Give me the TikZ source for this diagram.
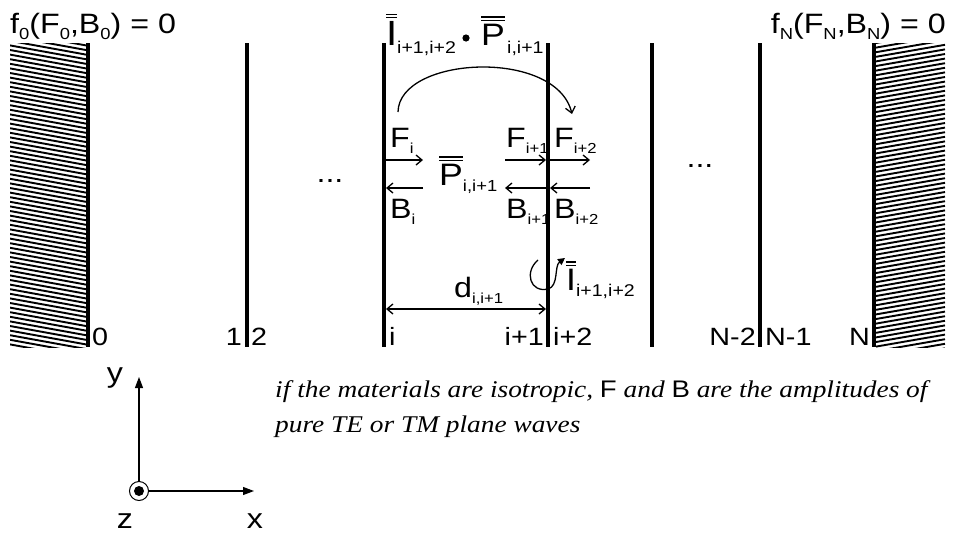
\documentclass[tikz,border=0pt]{standalone}
\usepackage{fontspec}
\setmainfont[FakeStretch=1.15]{Liberation Sans}
\newfontfamily\stsans[FakeStretch=1.15]{Liberation Sans}
\newfontfamily\serifit[FakeStretch=1.14]{Liberation Serif}
\usetikzlibrary{arrows.meta}
\newcommand\fs[1]{\fontsize{#1}{#1}\selectfont}
\newcommand\sbs[1]{\raisebox{-6pt}{\fs{16}#1}}
\newcommand\sbm[1]{\raisebox{-6pt}{\fs{14.5}#1}}
\newsavebox\dblbox
\newcommand\dbl[1]{\sbox\dblbox{#1}\rlap{\raisebox{\dimexpr\ht\dblbox+2.5pt}{\rule{\wd\dblbox}{1.4pt}}}\rlap{\raisebox{\dimexpr\ht\dblbox+5.8pt}{\rule{\wd\dblbox}{1.4pt}}}\usebox\dblbox}
\tikzset{
  lbl/.style={inner sep=0pt, font=\fs{28}},
  idx/.style={inner sep=0pt, font=\fs{25}},
  wall/.style={line width=3.5pt},
  hatchline/.style={line width=1.9pt},
  flow/.style={line width=1.3pt, -{Straight Barb[length=6pt,width=10pt]}},
  axis/.style={line width=1.1pt, -{Triangle[length=11pt,width=8pt]}},
}
\begin{document}
\begin{tikzpicture}[x=1pt,y=-1pt]
\useasboundingbox (0,0) rectangle (959,536);
% hatched walls
\begin{scope}
  \clip (10,43) rectangle (87,347);
  \foreach \k in {0,...,72} {\draw[hatchline] (10,{27+\k*4.6}) -- ++(77,14);}
\end{scope}
\begin{scope}
  \clip (876,43) rectangle (945,347);
  \foreach \k in {0,...,72} {\draw[hatchline] (876,{43+\k*4.6}) -- ++(69,-12);}
\end{scope}
% interfaces
\foreach \n/\x in {w0/88,w1/247,wi/384,wj/548,wa/652,wb/760,wN/874}{
  \coordinate (\n t) at (\x,43);
  \coordinate (\n b) at (\x,347);
  \draw[wall] (\n t) -- (\n b);
}
% top conditions
\node[lbl, anchor=base west] (c0) at (10,33) {f\sbs{0}(F\sbs{0},B\sbs{0}) = 0};
\node[lbl, anchor=base east] (cN) at (946,33) {f\sbs{N}(F\sbs{N},B\sbs{N}) = 0};
% bottom indices
\node[idx, anchor=base west] (l0) at (92,345) {0};
\node[idx, anchor=base east] (l1) at (242,345) {1};
\node[idx, anchor=base west] (l2) at (251,345) {2};
\node[idx, anchor=base west] (li) at (389,345) {i};
\node[idx, anchor=base east] (lj) at (544,345) {i+1};
\node[idx, anchor=base west] (lk) at (553,345) {i+2};
\node[idx, anchor=base east] (la) at (756,345) {N-2};
\node[idx, anchor=base west] (lb) at (765,345) {N-1};
\node[idx, anchor=base east] (lN) at (870,345) {N};
% dots
\node[lbl, anchor=base] (dl) at (330,182) {...};
\node[lbl, anchor=base] (dr) at (700,167) {...};
% top product
\node[inner sep=0pt, anchor=base west, font=\fs{35}] (Itop) at (386,45) {\dbl{I}};
\node[inner sep=0pt, anchor=base west, font=\fs{17}] (Itops) at (397,53) {i+1,i+2};
\fill (466,38) circle (3.6pt);
\node[inner sep=0pt, anchor=base west, font=\fs{31}] (Ptop) at (481,45) {\dbl{P}};
\node[inner sep=0pt, anchor=base west, font=\fs{17}] (Ptops) at (507,53) {i,i+1};
% curved arrow
\coordinate (ca1) at (398,112);
\coordinate (ca2) at (572,114);
\draw[flow] (ca1) .. controls (399,56) and (556,48) .. (ca2);
% forward / backward arrows
\coordinate (Fi1) at (386,160); \coordinate (Fi2) at (423,160);
\coordinate (Bi1) at (423,188); \coordinate (Bi2) at (386,188);
\coordinate (Fj1) at (505,160); \coordinate (Fj2) at (546,160);
\coordinate (Bj1) at (546,188); \coordinate (Bj2) at (505,188);
\coordinate (Fk1) at (550,160); \coordinate (Fk2) at (590,160);
\coordinate (Bk1) at (590,188); \coordinate (Bk2) at (550,188);
\foreach \a/\b in {Fi1/Fi2,Bi1/Bi2,Fj1/Fj2,Bj1/Bj2,Fk1/Fk2,Bk1/Bk2}{\draw[flow] (\a) -- (\b);}
\node[lbl, anchor=base west] (Fi) at (390,147) {F\sbm{i}};
\node[lbl, anchor=base west] (Bi) at (390,218) {B\sbm{i}};
\node[lbl, anchor=base west] (Fj) at (506,147) {F\sbm{i+1}};
\node[lbl, anchor=base west] (Bj) at (506,218) {B\sbm{i+1}};
\node[lbl, anchor=base west] (Fk) at (554,147) {F\sbm{i+2}};
\node[lbl, anchor=base west] (Bk) at (554,218) {B\sbm{i+2}};
\node[inner sep=0pt, anchor=base west, font=\fs{31}] (Pm) at (439,185) {\dbl{P}\raisebox{-6pt}{\fs{16}i,i+1}};
% thickness
\coordinate (d1) at (386,309); \coordinate (d2) at (546,309);
\draw[line width=1.3pt, {Straight Barb[length=6pt,width=10pt]}-{Straight Barb[length=6pt,width=10pt]}] (d1) -- (d2);
\node[lbl, anchor=base west] (dlab) at (454,297) {d\sbm{i,i+1}};
% rotation
\draw[line width=1.3pt, -{Triangle[length=7pt,width=7pt]}] (538,260) .. controls (524,272) and (530,293) .. (548,289) .. controls (559,286) and (554,266) .. (565,258);
\node[inner sep=0pt, anchor=base west, font=\fs{31}] (Ir) at (566,290) {\dbl{I}\raisebox{-6pt}{\fs{17}i+1,i+2}};
% axes
\node[draw, circle, line width=1pt, minimum size=19pt, inner sep=0pt] (o) at (139,491) {};
\fill (o.center) circle (5pt);
\coordinate (yt) at (139,377);
\coordinate (xt) at (254,491);
\draw[axis] (o.north) -- (yt);
\draw[axis] (o.east) -- (xt);
\node[lbl, anchor=base] (ylab) at (115,382) {y};
\node[lbl, anchor=base] (zlab) at (125,528) {z};
\node[lbl, anchor=base] (xlab) at (255,528) {x};
% note
\node[inner sep=0pt, anchor=base west, font=\serifit\itshape\fs{24}] (note1) at (275,397)
  {if the materials are isotropic, {\stsans\upshape F} and {\stsans\upshape B} are the amplitudes of};
\node[inner sep=0pt, anchor=base west, font=\serifit\itshape\fs{24}] (note2) at (275,432)
  {pure TE or TM plane waves};
\end{tikzpicture}
\end{document}
